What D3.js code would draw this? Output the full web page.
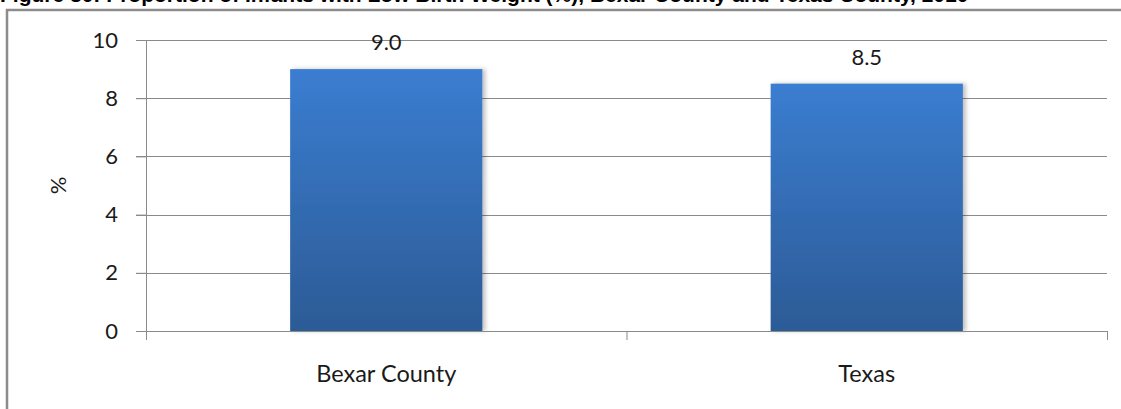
<!DOCTYPE html>
<html>
<head>
<meta charset="utf-8">
<script src="https://cdn.jsdelivr.net/npm/d3@7"></script>
<style>
  html, body { margin: 0; padding: 0; background: #fff; }
  svg { display: block; }
  text { font-family: Lato, "Open Sans", "Liberation Sans", sans-serif; fill: #1a1a1a; }
</style>
</head>
<body>
<svg id="chart" width="1121" height="409"></svg>
<script>
const titleText = "Figure 30: Proportion of Infants with Low Birth Weight (%), Bexar County and Texas County, 2010";
const categories = ["Bexar County", "Texas"];
const values = [9.0, 8.5];
const valueLabels = ["9.0", "8.5"];
const yTicks = [0, 2, 4, 6, 8, 10];
const yLabel = "%";

const svg = d3.select("#chart");
const W = 1121, H = 409;
const margin = { left: 146, right: 14, top: 40, bottom: 78 };
const plotW = W - margin.left - margin.right; // 961
const plotH = H - margin.top - margin.bottom; // 291

// gradient + shadow
const defs = svg.append("defs");
const grad = defs.append("linearGradient").attr("id", "barGrad")
  .attr("x1", 0).attr("y1", 0).attr("x2", 0).attr("y2", 1);
grad.append("stop").attr("offset", "0%").attr("stop-color", "#3b7dd1");
grad.append("stop").attr("offset", "100%").attr("stop-color", "#2c5b96");
const shadow = defs.append("filter").attr("id", "shadow")
  .attr("x", "-10%").attr("y", "-10%").attr("width", "130%").attr("height", "120%");
shadow.append("feDropShadow").attr("dx", 3).attr("dy", 0).attr("stdDeviation", 2)
  .attr("flood-color", "#000").attr("flood-opacity", 0.25);

// title (cropped at top in the reference, only its lower part shows)
svg.append("text")
  .attr("x", 0).attr("y", 1.5)
  .style("font-family", "'Liberation Sans', Arial, sans-serif")
  .style("font-weight", "bold")
  .style("font-size", "21px")
  .style("fill", "#000")
  .text(titleText);

// outer frame (top and left)
svg.append("path")
  .attr("d", `M7,${H} L7,10 L${W},10`)
  .attr("fill", "none").attr("stroke", "#8c8c8c").attr("stroke-width", 2.5);

const g = svg.append("g").attr("transform", `translate(${margin.left},${margin.top})`);

const x = d3.scaleBand().domain(categories).range([0, plotW])
  .paddingInner(0.6).paddingOuter(0.3);
const xCat = d3.scaleBand().domain(categories).range([0, plotW]).padding(0);
const y = d3.scaleLinear().domain([0, 10]).range([plotH, 0]);

// gridlines
g.append("g").selectAll("line").data(yTicks.filter(d => d > 0)).join("line")
  .attr("x1", -10).attr("x2", plotW)
  .attr("y1", d => Math.round(y(d)) + 0.5).attr("y2", d => Math.round(y(d)) + 0.5)
  .attr("stroke", "#8a8a8a").attr("stroke-width", 1);

// y axis
const yAxis = g.append("g")
  .call(d3.axisLeft(y).tickValues(yTicks).tickSize(10).tickPadding(18).tickSizeOuter(0));
yAxis.select(".domain").attr("stroke", "#8a8a8a");
yAxis.selectAll(".tick line").attr("stroke", "#8a8a8a");
yAxis.selectAll(".tick text")
  .style("font-family", "Lato, sans-serif").style("font-size", "22px").attr("fill", "#1a1a1a");

// bars
g.append("g").selectAll("rect").data(values).join("rect")
  .attr("x", (d, i) => x(categories[i]))
  .attr("y", d => y(d))
  .attr("width", x.bandwidth())
  .attr("height", d => plotH - y(d))
  .attr("fill", "url(#barGrad)")
  .attr("filter", "url(#shadow)");

// x axis
const xAxisG = g.append("g").attr("transform", `translate(0,${plotH})`);
xAxisG.append("line").attr("x1", 0).attr("x2", plotW).attr("y1", 0.5).attr("y2", 0.5)
  .attr("stroke", "#8a8a8a");
const xTickPos = [0].concat(categories.map(c => xCat(c) + xCat.bandwidth()));
xAxisG.selectAll("line.tk").data(xTickPos).join("line").attr("class", "tk")
  .attr("x1", d => d + 0.5).attr("x2", d => d + 0.5).attr("y1", 0).attr("y2", 9)
  .attr("stroke", "#8a8a8a");
xAxisG.selectAll("text.cat").data(categories).join("text").attr("class", "cat")
  .attr("x", d => xCat(d) + xCat.bandwidth() / 2)
  .attr("y", 51)
  .attr("text-anchor", "middle")
  .style("font-size", "23.5px")
  .text(d => d);

// value labels
g.append("g").selectAll("text").data(values).join("text")
  .attr("x", (d, i) => x(categories[i]) + x.bandwidth() / 2)
  .attr("y", d => y(d) - 19)
  .attr("text-anchor", "middle")
  .style("font-size", "22px")
  .text((d, i) => valueLabels[i]);

// y label
svg.append("text")
  .attr("transform", `translate(66,${margin.top + plotH / 2}) rotate(-90)`)
  .attr("text-anchor", "middle")
  .style("font-size", "22px")
  .text(yLabel);
</script>
</body>
</html>
